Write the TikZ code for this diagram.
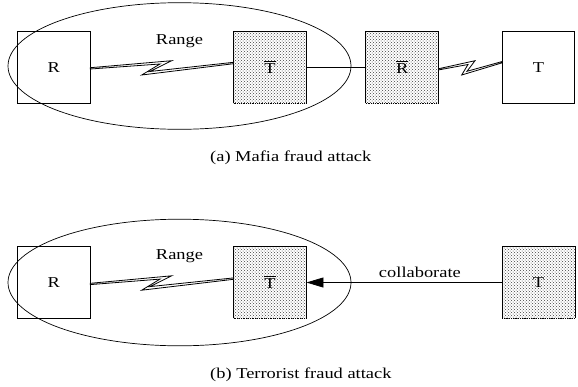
\documentclass[tikz,border=0pt]{standalone}
\usepackage{fontspec}
\setmainfont{Liberation Serif}[FakeStretch=1.22]
\usetikzlibrary{patterns,arrows.meta,calc}
\newcommand\barred[1]{\leavevmode\vbox{\hrule height 0.7pt\kern1.6pt\hbox{#1}}}
\begin{document}
\begin{tikzpicture}[x=1pt,y=-1pt,
  txt/.style={inner sep=0pt, font=\fontsize{15.1}{18}\selectfont},
  box/.style={txt, draw, line width=0.8pt, minimum width=72.5pt, minimum height=71.5pt},
  shadebox/.style={txt, minimum width=72.5pt, minimum height=71.5pt, pattern=crosshatch dots, pattern color=black!75},
  edge/.style={line width=0.8pt},
  bolt/.style={line width=0.8pt, line join=miter, fill=white},
  rangeell/.style={draw, line width=0.7pt},
]
\useasboundingbox (0,0) rectangle (578,386);

% ---------- (a) Mafia fraud attack ----------
\node[box] (R1) at (53.7,67.5) {R};
\node[shadebox] (Tb1) at (270,67.5) {\barred{T}};
\node[shadebox] (Rb1) at (402.3,67.5) {\barred{R}};
\node[box] (T1) at (538.5,67.5) {T};
\foreach \n in {Tb1,Rb1}{
  \draw[edge] (\n.south west) -- (\n.north west) -- (\n.north east) -- (\n.south east);
  \draw[edge, densely dotted] (\n.south west) -- (\n.south east);
}
\draw[rangeell] (179.5,66) ellipse [x radius=171.5pt, y radius=63.3pt];
\node[txt, anchor=base] (rg1) at (179.5,44.3) {Range};
\draw[edge] (Tb1.east) -- (Rb1.west);
\draw[bolt] ($(R1.east)+(0,0.2)$) -- (171.7,60.7) -- (150,71.5)
  -- ($(Tb1.west)+(0,-5.2)$) -- ($(Tb1.west)+(0,-3.8)$) -- (141.7,75)
  -- (160,64) -- ($(R1.east)+(0,1.5)$) -- cycle;
\draw[bolt] ($(Rb1.east)+(0,1.2)$) -- (475,60.7) -- (467,71.3)
  -- ($(T1.west)+(0,-5.9)$) -- ($(T1.west)+(0,-4.6)$) -- (461.7,75)
  -- (468,64.5) -- ($(Rb1.east)+(0,2.4)$) -- cycle;
\node[txt, anchor=base west] (capa) at (210,161) {(a) Mafia fraud attack};

% ---------- (b) Terrorist fraud attack ----------
\node[box] (R2) at (53.7,282.5) {R};
\node[shadebox] (Tb2) at (270,282.5) {\barred{T}};
\node[shadebox] (T2) at (538.5,282.5) {T};
\foreach \n in {Tb2,T2}{
  \draw[edge] (\n.south west) -- (\n.north west) -- (\n.north east) -- (\n.south east);
  \draw[edge, densely dotted] (\n.south west) -- (\n.south east);
}
\draw[rangeell] (179.5,282.5) ellipse [x radius=171.5pt, y radius=63.3pt];
\node[txt, anchor=base] (rg2) at (179.5,259.5) {Range};
\draw[bolt] ($(R2.east)+(0,0.8)$) -- (171.7,275.8) -- (150,286.6)
  -- ($(Tb2.west)+(0,-4.6)$) -- ($(Tb2.west)+(0,-3.2)$) -- (141.7,290.2)
  -- (160,279.1) -- ($(R2.east)+(0,2.1)$) -- cycle;
\draw[edge, -{Triangle[length=17pt,width=10pt]}] (T2.west) -- (Tb2.east)
  node[txt, pos=0.42, anchor=base, yshift=5.2pt] (col) {collaborate};
\node[txt, anchor=base west] (capb) at (210,378.5) {(b) Terrorist fraud attack};
\end{tikzpicture}
\end{document}
